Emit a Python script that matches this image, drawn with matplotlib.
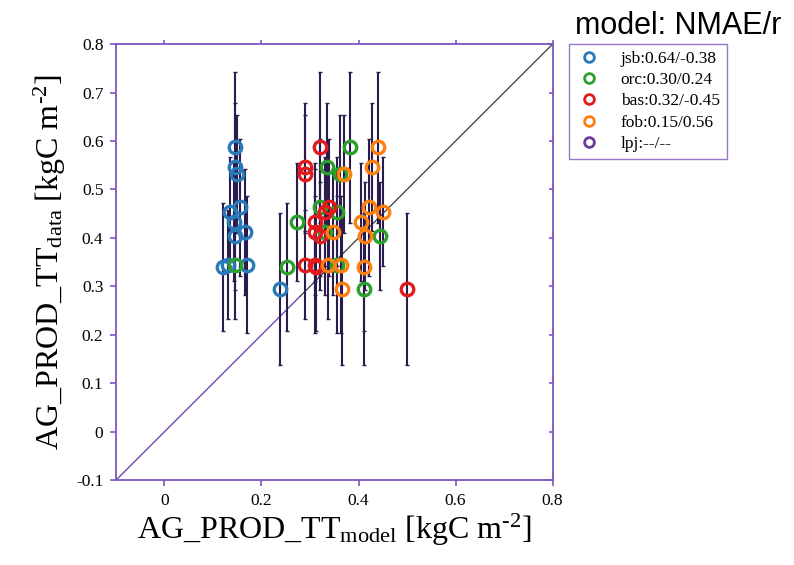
import numpy as np
import matplotlib
matplotlib.use('Agg')
import matplotlib.pyplot as plt
from matplotlib.lines import Line2D

# ── data ──────────────────────────────────────────────────────────────────────
# one entry per site: observed value and its error (same for every model)
DATA_Y   = [0.587, 0.547, 0.532, 0.463, 0.454, 0.433, 0.413, 0.404, 0.345, 0.345, 0.340, 0.295]
DATA_ERR = [0.156, 0.132, 0.121, 0.141, 0.112, 0.122, 0.130, 0.112, 0.113, 0.141, 0.133, 0.157]

JSB = [0.146, 0.146, 0.150, 0.155, 0.136, 0.143, 0.167, 0.146, 0.130, 0.170, 0.121, 0.239]
ORC = [0.383, 0.335, 0.362, 0.321, 0.355, 0.273, 0.331, 0.444, 0.146, 0.355, 0.252, 0.412]
BAS = [0.321, 0.290, 0.290, 0.340, 0.331, 0.311, 0.311, 0.321, 0.290, 0.311, 0.313, 0.500]
FOB = [0.440, 0.427, 0.371, 0.422, 0.450, 0.405, 0.348, 0.414, 0.337, 0.364, 0.412, 0.366]

MODELS = ["jsb", "orc", "bas", "fob", "lpj"]
STATS  = ["0.64/-0.38", "0.30/0.24", "0.32/-0.45", "0.15/0.56", "--/--"]
SERIES = [JSB, ORC, BAS, FOB, None]
COLORS = ["#2a7ab9", "#2ca02c", "#e31a1c", "#ff7f0e", "#6a3d9a"]

XTICKS = [0, 0.2, 0.4, 0.6, 0.8]
YTICKS = [-0.1, 0, 0.1, 0.2, 0.3, 0.4, 0.5, 0.6, 0.7, 0.8]

SPINE = "#7b55c2"
SERIF = "Liberation Serif"

plt.rcParams['mathtext.fontset'] = 'custom'
plt.rcParams['mathtext.rm'] = SERIF
plt.rcParams['mathtext.it'] = SERIF + ':italic'

# ── canvas ────────────────────────────────────────────────────────────────────
fig = plt.figure(figsize=(7.94, 5.65), dpi=100, facecolor='white')
ax = fig.add_axes([0.146, 0.150, 0.550, 0.772])

# 1:1 line, purple at the bottom, dark towards the top
ax.plot([-0.1, 0.28], [-0.1, 0.28], color="#7048b8", lw=1.0, zorder=1)
ax.plot([0.28, 0.8], [0.28, 0.8], color="#3a3a3a", lw=0.9, zorder=1)

# error bars, then hollow circles
for xs, col in zip(SERIES, COLORS):
    if xs is None:
        continue
    ax.errorbar(xs, DATA_Y, yerr=DATA_ERR, fmt='none', ecolor="#2a1c4e",
                elinewidth=1.5, capsize=1.5, capthick=1.0, zorder=2)
for xs, col in zip(SERIES, COLORS):
    if xs is None:
        continue
    ax.plot(xs, DATA_Y, 'o', mfc='none', mec=col, mew=2.4, ms=9, zorder=3)

# ── axes style ────────────────────────────────────────────────────────────────
ax.set_xlim(-0.1, 0.8)
ax.set_ylim(-0.1, 0.8)
ax.set_xticks(XTICKS)
ax.set_xticklabels(["0", "0.2", "0.4", "0.6", "0.8"])
ax.set_yticks(YTICKS)
ax.set_yticklabels(["-0.1", "0", "0.1", "0.2", "0.3", "0.4", "0.5", "0.6", "0.7", "0.8"])
for s in ax.spines.values():
    s.set_color(SPINE)
    s.set_linewidth(1.3)
ax.tick_params(direction='out', length=4, width=1.2, color=SPINE,
               labelsize=12.5, pad=5)
for lab in ax.get_xticklabels() + ax.get_yticklabels():
    lab.set_fontfamily(SERIF)

top = ax.secondary_xaxis('top')
top.set_xticks(XTICKS)
top.set_xticklabels([])
top.tick_params(direction='out', length=3, width=1.2, color=SPINE)
top.spines['top'].set_visible(False)
right = ax.secondary_yaxis('right')
right.set_yticks(YTICKS)
right.set_yticklabels([])
right.tick_params(direction='in', length=3, width=1.2, color=SPINE)
right.spines['right'].set_visible(False)

ax.set_xlabel(r"AG_PROD_TT$_{\mathrm{model}}$ [kgC m$^{\text{-2}}$]",
              fontfamily=SERIF, fontsize=23, labelpad=2)
ax.set_ylabel(r"AG_PROD_TT$_{\mathrm{data}}$ [kgC m$^{\text{-2}}$]",
              fontfamily=SERIF, fontsize=23, labelpad=6)

# ── legend ────────────────────────────────────────────────────────────────────
handles = [Line2D([0], [0], marker='o', ls='none', mfc='none', mec=c, mew=2.0, ms=7)
           for c in COLORS]
labels = [f"{m}:{s}" for m, s in zip(MODELS, STATS)]
leg = fig.legend(handles, labels, loc='upper left', bbox_to_anchor=(0.716, 0.923),
                 prop={'family': SERIF, 'size': 12.5}, frameon=True, fancybox=False,
                 edgecolor=SPINE, handletextpad=1.0, borderpad=0.4,
                 labelspacing=0.3, handlelength=1.6, borderaxespad=0)
leg.get_frame().set_linewidth(1.0)
fig.text(0.724, 0.928, "model: NMAE/r", fontfamily="Liberation Sans", fontsize=22,
         ha='left', va='bottom', color='black')

plt.savefig('out.png', dpi=100, facecolor='white')
